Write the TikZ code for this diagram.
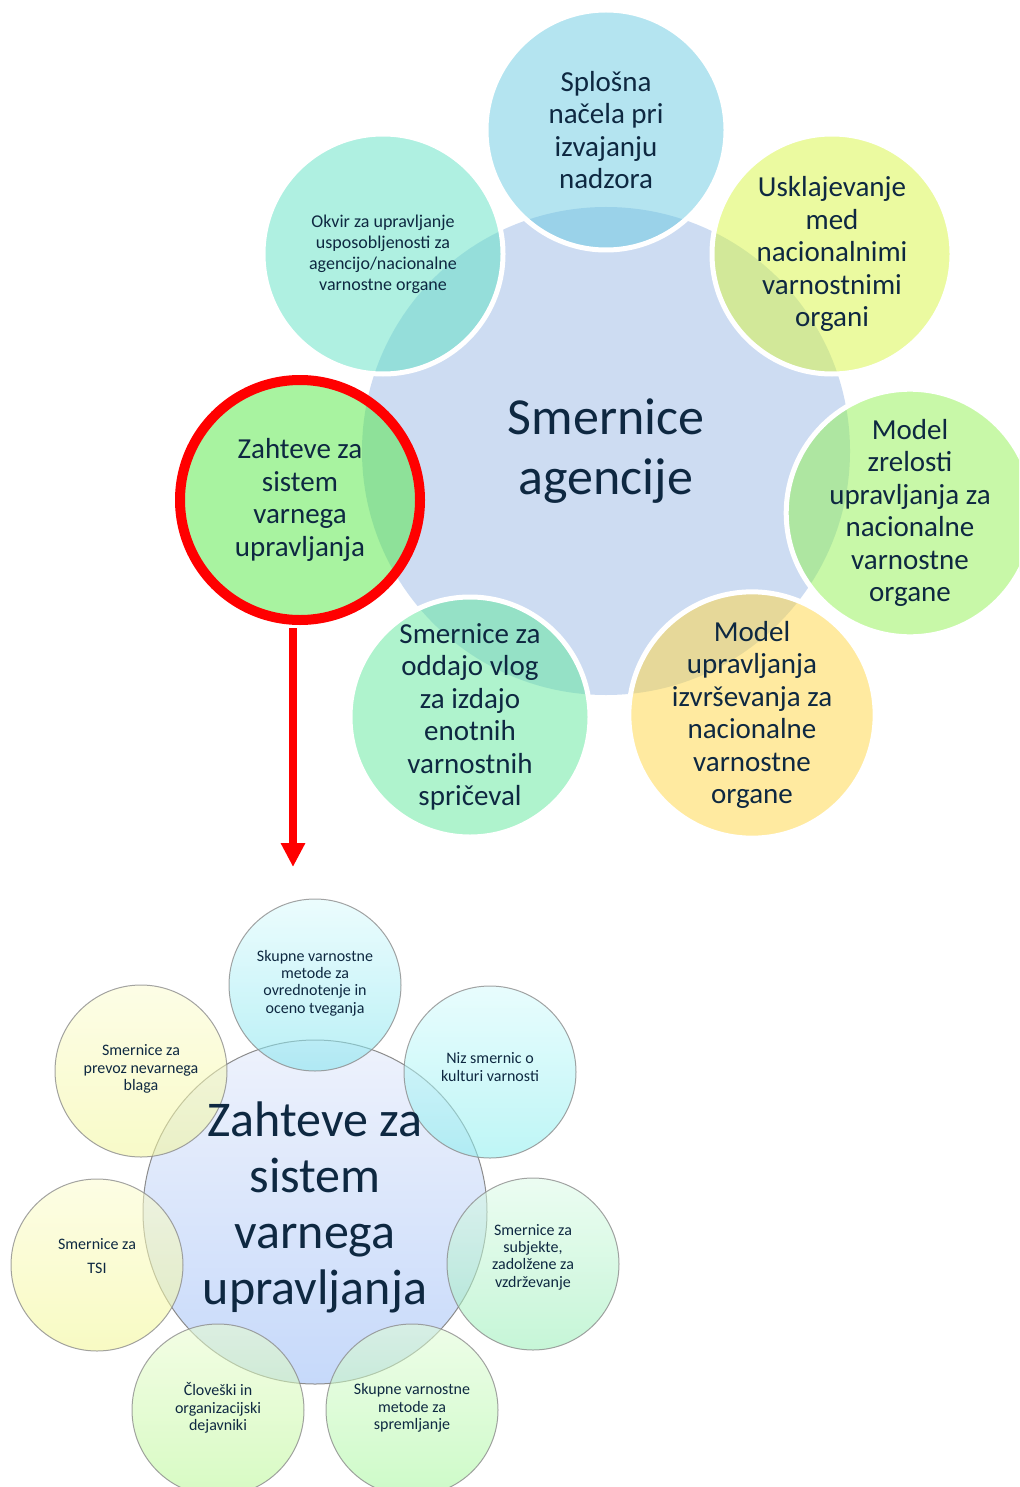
\documentclass[tikz,border=0pt]{standalone}
\usepackage{fontspec}
\setmainfont{Carlito}
\usepackage{xcolor}
\definecolor{ink}{RGB}{14,40,65}
\definecolor{hub}{RGB}{205,220,242}
\definecolor{splosna}{RGB}{105,201,225}
\definecolor{uskl}{RGB}{215,245,65}
\definecolor{zrelost}{RGB}{145,241,81}
\definecolor{izvrs}{RGB}{255,213,65}
\definecolor{oddajo}{RGB}{95,231,155}
\definecolor{zsvu}{RGB}{81,231,65}
\definecolor{okvir}{RGB}{95,225,195}
\definecolor{rim}{RGB}{140,140,140}
\definecolor{hubtop}{RGB}{238,242,252}
\definecolor{hubbot}{RGB}{198,217,250}
\usepackage{tikz}
\usetikzlibrary{arrows.meta}
\tikzset{
    bubble/.style={circle, minimum size=240, inner sep=0, align=center,
        text=ink, fill opacity=0.5, text opacity=1, draw=white, line width=5,
        font={\fontsize{29}{32.5}\selectfont}},
    ball/.style={circle, minimum size=172, inner sep=0, fill opacity=0.55,
        draw=rim, draw opacity=0.8, line width=1},
    balltext/.style={align=center, text=ink, inner sep=0,
        font={\fontsize{16}{17.3}\selectfont}},
    }

\begin{document}
\begin{tikzpicture}
    [x=1pt, y=-1pt]
    \useasboundingbox (0,0) rectangle (1019,1487);
    \clip (0,0) rectangle (1019,1487);
    % agencija
    \node[circle, fill=hub, minimum size=488, align=center, text=ink,
        font={\fontsize{52}{60}\selectfont}]
        (agencija) at (606,451) {Smernice\\agencije};
    \node[bubble, fill=splosna] (splosna) at (606,130)
        {Splošna\\načela pri\\izvajanju\\nadzora};
    \node[bubble, fill=uskl] (uskl) at (832,254)
        {Usklajevanje\\med\\nacionalnimi\\varnostnimi\\organi};
    \node[bubble, fill=zrelost] (zrelost) at (910,513)
        {Model\\zrelosti\\upravljanja za\\nacionalne\\varnostne\\organe};
    \node[bubble, fill=izvrs] (izvrs) at (752,715)
        {Model\\upravljanja\\izvrševanja za\\nacionalne\\varnostne\\organe};
    \node[bubble, fill=oddajo] (oddajo) at (470,717)
        {Smernice za\\oddajo vlog\\za izdajo\\enotnih\\varnostnih\\spričeval};
    \node[bubble, fill=zsvu, draw=red, line width=10] (zsvu) at (300,500)
        {Zahteve za\\sistem\\varnega\\upravljanja};
    \node[bubble, fill=okvir, font={\fontsize{18}{21}\selectfont}] (okvir) at (383,254)
        {Okvir za upravljanje\\usposobljenosti za\\agencijo/nacionalne\\varnostne organe};
    % arrow
    \coordinate (arrowend) at (293,867);
    \draw[red, line width=8, -{Triangle[width=23pt,length=24pt]}, shorten <=3pt]
        ([xshift=-7]zsvu.south) -- (arrowend);
    % zahteve
    \node[circle, minimum size=344, draw=rim, line width=1, top color=hubtop,
        bottom color=hubbot] (zahteve) at (315,1212) {};
    \node[ball, top color={rgb,255:red,220;green,250;blue,252},
        bottom color={rgb,255:red,128;green,228;blue,238},
        label={[balltext, yshift=2]center:{Skupne varnostne\\metode za\\ovrednotenje in\\oceno tveganja}}]
        (ocena) at (315,985) {};
    \node[ball, top color={rgb,255:red,213;green,250;blue,252},
        bottom color={rgb,255:red,137;green,238;blue,238},
        label={[balltext, yshift=5]center:{Niz smernic o\\kulturi varnosti}}]
        (kultura) at (490,1072) {};
    \node[ball, top color={rgb,255:red,220;green,250;blue,231},
        bottom color={rgb,255:red,151;green,238;blue,182},
        label={[balltext, yshift=7]center:{Smernice za\\subjekte,\\zadolžene za\\vzdrževanje}}]
        (vzdrz) at (533,1264) {};
    \node[ball, top color={rgb,255:red,224;green,252;blue,213},
        bottom color={rgb,255:red,164;green,246;blue,155},
        label={[balltext, yshift=2]center:{Skupne varnostne\\metode za\\spremljanje}}]
        (spreml) at (412,1410) {};
    \node[ball, top color={rgb,255:red,233;green,252;blue,206},
        bottom color={rgb,255:red,182;green,246;blue,146},
        label={[balltext, yshift=2]center:{Človeški in\\organizacijski\\dejavniki}}]
        (clovek) at (218,1410) {};
    \node[ball, top color={rgb,255:red,251;green,252;blue,206},
        bottom color={rgb,255:red,242;green,246;blue,146},
        label={[balltext, yshift=9]center:{Smernice za\\[6pt]TSI}}]
        (tsi) at (97,1265) {};
    \node[ball, top color={rgb,255:red,251;green,252;blue,209},
        bottom color={rgb,255:red,242;green,246;blue,155},
        label={[balltext, yshift=2]center:{Smernice za\\prevoz nevarnega\\blaga}}]
        (prevoz) at (141,1071) {};
    % text
    \node[align=center, text=ink, font={\fontsize{50}{56}\selectfont}, yshift=5]
        (zahtevetext) at (zahteve) {Zahteve za\\sistem\\varnega\\upravljanja};
\end{tikzpicture}
\end{document}
